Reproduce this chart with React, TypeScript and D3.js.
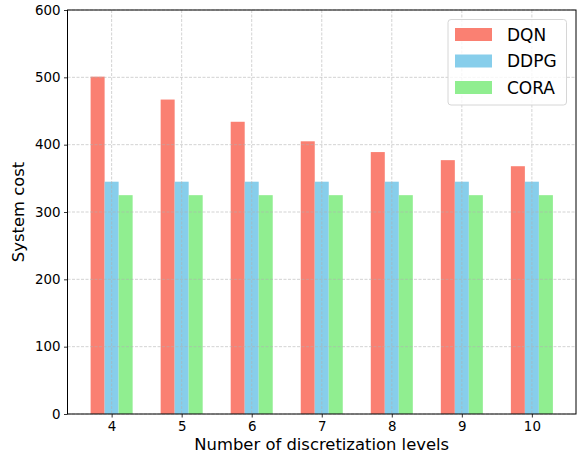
import { useRef, useEffect } from "react";
import * as d3 from "d3";

const levels = [4, 5, 6, 7, 8, 9, 10];
const dqn = [501, 467, 434, 405, 389, 377, 368];
const ddpg = [345, 345, 345, 345, 345, 345, 345];
const cora = [325, 325, 325, 325, 325, 325, 325];
const seriesNames = ["DQN", "DDPG", "CORA"];
const seriesColors = ["#FA8072", "#87CEEB", "#90EE90"];
const yTicks = [0, 100, 200, 300, 400, 500, 600];

function App() {
    const ref = useRef(null);

    useEffect(() => {
        const svg = d3.select(ref.current);
        svg.selectAll("*").remove();

        const left = 67.5, right = 576, top = 10, bottom = 414;
        const font = "DejaVu Sans, sans-serif";
        const series = [dqn, ddpg, cora];
        const barW = 0.2;

        const x = d3.scaleLinear().domain([3.37, 10.63]).range([left, right]);
        const y = d3.scaleLinear().domain([0, 600]).range([bottom, top]);

        // bars
        series.forEach((vals, s) => {
            svg.append("g")
                .selectAll("rect")
                .data(vals)
                .enter().append("rect")
                .attr("x", (d, i) => x(levels[i] + (s - 1) * barW - barW / 2))
                .attr("width", x(barW) - x(0))
                .attr("y", d => y(d))
                .attr("height", d => y(0) - y(d))
                .attr("fill", seriesColors[s]);
        });

        // grid on top
        const grid = svg.append("g")
            .attr("stroke", "#b0b0b0")
            .attr("stroke-opacity", 0.7)
            .attr("stroke-width", 0.8)
            .attr("stroke-dasharray", "3,1.5");
        grid.selectAll(".gy").data(yTicks).enter().append("line")
            .attr("x1", left).attr("x2", right)
            .attr("y1", d => y(d)).attr("y2", d => y(d));
        grid.selectAll(".gx").data(levels).enter().append("line")
            .attr("y1", top).attr("y2", bottom)
            .attr("x1", d => x(d)).attr("x2", d => x(d));

        // axes
        const gx = svg.append("g")
            .attr("transform", "translate(0," + bottom + ")")
            .call(d3.axisBottom(x).tickValues(levels).tickSize(3.5).tickPadding(3.5).tickFormat(d3.format("d")));
        const gy = svg.append("g")
            .attr("transform", "translate(" + left + ",0)")
            .call(d3.axisLeft(y).tickValues(yTicks).tickSize(3.5).tickPadding(3.5));
        [gx, gy].forEach(g => {
            g.select(".domain").remove();
            g.selectAll("text").attr("font-family", font).attr("font-size", 13.4).attr("fill", "#000");
            g.selectAll("line").attr("stroke", "#000").attr("stroke-width", 0.8);
        });

        // frame
        svg.append("rect")
            .attr("x", left).attr("y", top)
            .attr("width", right - left).attr("height", bottom - top)
            .attr("fill", "none").attr("stroke", "#000").attr("stroke-width", 1);

        // axis labels
        svg.append("text")
            .attr("x", (left + right) / 2).attr("y", 449.5)
            .attr("text-anchor", "middle")
            .attr("font-family", font).attr("font-size", 16.4)
            .text("Number of discretization levels");
        svg.append("text")
            .attr("transform", "translate(24," + (top + bottom) / 2 + ") rotate(-90)")
            .attr("text-anchor", "middle")
            .attr("font-family", font).attr("font-size", 16.4)
            .text("System cost");

        // legend
        const lg = svg.append("g");
        lg.append("rect")
            .attr("x", 448).attr("y", 19.5).attr("width", 118.5).attr("height", 85.5)
            .attr("rx", 3)
            .attr("fill", "#fff").attr("fill-opacity", 0.8)
            .attr("stroke", "#d6d6d6").attr("stroke-width", 1);
        seriesNames.forEach((name, i) => {
            const cy = 34.5 + i * 26.5;
            lg.append("rect")
                .attr("x", 455).attr("y", cy - 6.5).attr("width", 37).attr("height", 13)
                .attr("fill", seriesColors[i]);
            lg.append("text")
                .attr("x", 507).attr("y", cy)
                .attr("dy", "0.36em")
                .attr("font-family", font).attr("font-size", 17)
                .text(name);
        });
    }, []);

    return (
        <div style={{ position: "absolute", left: 0, top: 0 }}>
            <svg ref={ref} width="578" height="457" style={{ display: "block" }} />
        </div>
    );
}

export default App;
